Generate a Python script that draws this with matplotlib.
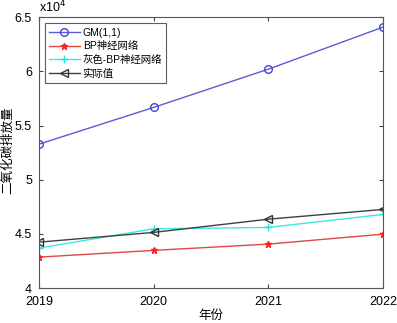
import numpy as np
import matplotlib
matplotlib.use("Agg")
import matplotlib.pyplot as plt
from matplotlib.ticker import FuncFormatter

plt.rcParams['font.family'] = ['Liberation Sans', 'Noto Sans CJK SC', 'DejaVu Sans']

# ---------- Data ----------
years = [2019, 2020, 2021, 2022]
gm11 = [53280, 56670, 60200, 64080]
bp_net = [42860, 43480, 44060, 44980]
grey_bp = [43690, 45470, 45600, 46800]
actual = [44240, 45140, 46360, 47260]

fig = plt.figure(figsize=(3.97, 3.23), dpi=100)
ax = fig.add_axes([0.098, 0.108, 0.867, 0.839])

ax.plot(years, gm11, color='#5b5bd8', lw=1, marker='o', ms=5.5, mfc='none', mec='#4444d0', label='GM(1,1)')
ax.plot(years, bp_net, color='#e04848', lw=1, marker='*', ms=5, mfc='#ff2020', mec='#ff2020', label='BP神经网络')
ax.plot(years, grey_bp, color='#3ee8e0', lw=1, marker='+', ms=6, mec='#20e8e0', label='灰色-BP神经网络')
ax.plot(years, actual, color='#404040', lw=1, marker='<', ms=5.5, mfc='none', mec='#333333', label='实际值')

ax.set_xlim(2019, 2022)
ax.set_ylim(40000, 65000)
ax.set_xticks(years)
ax.set_yticks(np.arange(40000, 65001, 5000))
ax.yaxis.set_major_formatter(FuncFormatter(lambda v, p: f"{v/1e4:g}"))
ax.tick_params(direction='in', top=True, right=True, labelsize=9, length=3, color='#444444')
ax.tick_params(axis='x', pad=6)
ax.tick_params(axis='y', pad=5)
for s in ax.spines.values():
    s.set_color('#555555')
    s.set_linewidth(0.8)

ax.text(0.0, 1.005, r'x10$^4$', transform=ax.transAxes, fontsize=9, ha='left', va='bottom')
ax.set_xlabel('年份', fontsize=9, labelpad=1)
fig.text(0.019, 0.535, '二氧化碳排放量', fontsize=9, rotation=90, ha='center', va='center')

leg = ax.legend(loc='upper left', fontsize=7.5, frameon=True, fancybox=False, borderpad=0.4,
                labelspacing=0.35, handlelength=2.9, handletextpad=0.3, borderaxespad=0.6)
leg.get_frame().set_edgecolor('#333333')
leg.get_frame().set_linewidth(0.8)

fig.savefig('out.png', dpi=100)
